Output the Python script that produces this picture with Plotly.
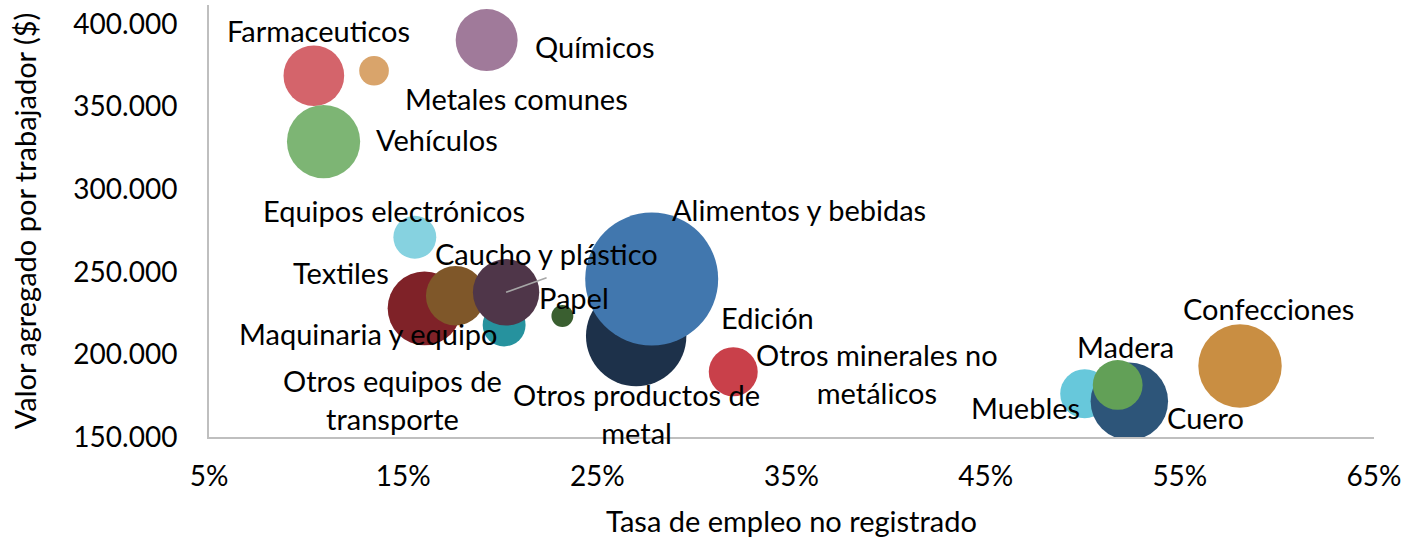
import plotly.graph_objects as go

# ---- data ----
sectores = ["Farmaceuticos", "Metales comunes", "Químicos", "Vehículos",
            "Equipos electrónicos", "Textiles", "Otros equipos de transporte",
            "Maquinaria y equipo", "Caucho y plástico", "Papel", "Edición",
            "Otros productos de metal", "Alimentos y bebidas",
            "Otros minerales no metálicos", "Muebles", "Cuero", "Madera",
            "Confecciones"]
tasa_no_registrado = [10.4, 13.5, 19.3, 10.9, 15.6, 16.1, 20.2, 17.7, 20.3, 23.2,
                      28.8, 27.0, 27.8, 32.0, 50.1, 52.4, 51.8, 58.1]  # %
valor_agregado = [368700, 371700, 390300, 328800, 270900, 227900, 217800, 235500,
                  237600, 223200, 232000, 211100, 245600, 189500, 176200, 171600,
                  181500, 193000]
empleo = [46, 11, 48, 67, 23, 68, 23, 44, 55, 6, 20, 126, 221, 30, 30, 75, 31, 87]

x_ticks = [5, 15, 25, 35, 45, 55, 65]
x_tick_labels = ["5%", "15%", "25%", "35%", "45%", "55%", "65%"]
y_ticks = [150000, 200000, 250000, 300000, 350000, 400000]

# ---- styles ----
colores = ["#D4646B", "#D9A46B", "#A07A9A", "#7DB574", "#86D2E0", "#7F2228",
           "#26929E", "#7F5729", "#4F3649", "#3A5F30", "#5A8AC6", "#1D314A",
           "#4177AE", "#C9404A", "#67C8DB", "#2D5579", "#62A057", "#C98E42"]

# label positions (data units) and texts
etiquetas = {
    "Farmaceuticos": ("Farmaceuticos", 10.65, 395800),
    "Químicos": ("Químicos", 24.87, 386100),
    "Metales comunes": ("Metales comunes", 20.86, 355200),
    "Vehículos": ("Vehículos", 16.76, 329800),
    "Equipos electrónicos": ("Equipos electrónicos", 14.55, 287400),
    "Alimentos y bebidas": ("Alimentos y bebidas", 35.39, 288000),
    "Caucho y plástico": ("Caucho y plástico", 22.40, 260800),
    "Textiles": ("Textiles", 11.78, 249300),
    "Papel": ("Papel", 23.79, 234700),
    "Maquinaria y equipo": ("Maquinaria y equipo", 13.21, 212900),
    "Edición": ("Edición", 33.75, 222600),
    "Otros minerales no metálicos": ("Otros minerales no<br>metálicos", 39.39, 188700),
    "Otros equipos de transporte": ("Otros equipos de<br>transporte", 14.45, 173000),
    "Otros productos de metal": ("Otros productos de<br>metal", 27.02, 164500),
    "Confecciones": ("Confecciones", 59.57, 227500),
    "Madera": ("Madera", 52.18, 204500),
    "Muebles": ("Muebles", 47.04, 167600),
    "Cuero": ("Cuero", 56.33, 162100),
}

FONT = "Lato, Carlito, Calibri, sans-serif"
FS = 29
TICK_FS = 28

fig = go.Figure()
fig.add_trace(go.Scatter(
    x=tasa_no_registrado, y=valor_agregado, mode="markers",
    text=sectores,
    marker=dict(size=empleo, sizemode="area", sizeref=0.025,
                color=colores, opacity=1, line=dict(width=0)),
    hovertemplate="%{text}<br>%{x}%<br>%{y}<extra></extra>",
    showlegend=False,
))

annotations = []
# leader line for Caucho y plástico (from bubble centre to below its label)
i = sectores.index("Caucho y plástico")
annotations.append(dict(x=tasa_no_registrado[i], y=valor_agregado[i], xref="x", yref="y",
                        text="", showarrow=True, arrowhead=0,
                        arrowwidth=1.5, arrowcolor="#A6A6A6", ax=42, ay=-15,
                        standoff=0, startstandoff=0))
for name, (txt, lx, ly) in etiquetas.items():
    annotations.append(dict(x=lx, y=ly, xref="x", yref="y", text=txt,
                            showarrow=False, font=dict(family=FONT, size=FS, color="#000000"),
                            xanchor="center", yanchor="middle", align="center"))

fig.update_layout(
    width=1406, height=540, autosize=False,
    margin=dict(l=209, r=28, t=5, b=103),
    plot_bgcolor="white", paper_bgcolor="white",
    separators=",.",
    font=dict(family=FONT, size=FS, color="#000000"),
    annotations=annotations,
    xaxis=dict(range=[5, 65], tickmode="array", tickvals=x_ticks, ticktext=x_tick_labels,
               showgrid=False, zeroline=False, showline=True,
               linecolor="#BFBFBF", linewidth=2, ticks="",
               ticklabelstandoff=13, tickfont=dict(family=FONT, size=TICK_FS),
               title=dict(text="Tasa de empleo no registrado", standoff=21,
                          font=dict(family=FONT, size=FS))),
    yaxis=dict(range=[150000, 411500], tickmode="array", tickvals=y_ticks, tickformat=",d",
               showgrid=False, zeroline=False, showline=True,
               linecolor="#BFBFBF", linewidth=2, ticks="",
               ticklabelstandoff=24, tickfont=dict(family=FONT, size=TICK_FS),
               title=dict(text="Valor agregado por trabajador ($)", standoff=28,
                          font=dict(family=FONT, size=FS))),
)

fig.write_html("out.html", config={"displayModeBar": False},
               post_script="document.body.style.margin='0';")
